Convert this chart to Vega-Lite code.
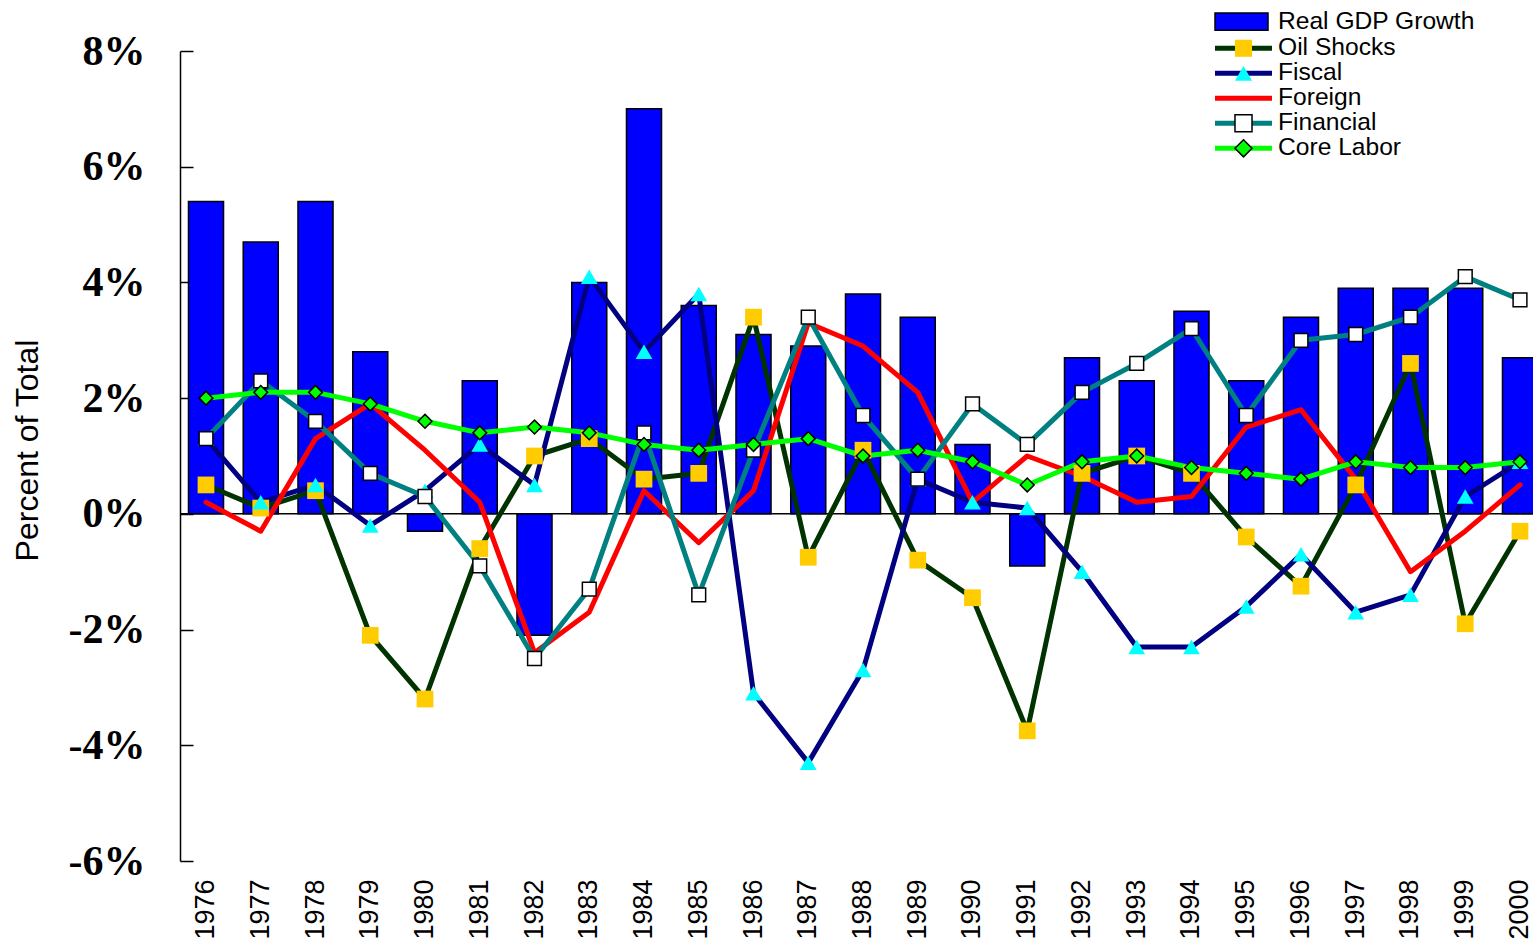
{
  "$schema": "https://vega.github.io/schema/vega-lite/v6.json",
  "width": 1353,
  "height": 810,
  "autosize": {"type": "none"},
  "padding": {"left": 180, "top": 51, "right": 0, "bottom": 80},
  "background": "white",
  "config": {"view": {"stroke": null}, "axis": {"labelOverlap": false}},
  "data": {"values": [
    {"year":"1976","series":"Real GDP Growth","value":5.4},{"year":"1976","series":"Oil Shocks","value":0.5},{"year":"1976","series":"Fiscal","value":1.3},{"year":"1976","series":"Foreign","value":0.2},{"year":"1976","series":"Financial","value":1.3},{"year":"1976","series":"Core Labor","value":2.0},
    {"year":"1977","series":"Real GDP Growth","value":4.7},{"year":"1977","series":"Oil Shocks","value":0.1},{"year":"1977","series":"Fiscal","value":0.2},{"year":"1977","series":"Foreign","value":-0.3},{"year":"1977","series":"Financial","value":2.3},{"year":"1977","series":"Core Labor","value":2.1},
    {"year":"1978","series":"Real GDP Growth","value":5.4},{"year":"1978","series":"Oil Shocks","value":0.4},{"year":"1978","series":"Fiscal","value":0.5},{"year":"1978","series":"Foreign","value":1.3},{"year":"1978","series":"Financial","value":1.6},{"year":"1978","series":"Core Labor","value":2.1},
    {"year":"1979","series":"Real GDP Growth","value":2.8},{"year":"1979","series":"Oil Shocks","value":-2.1},{"year":"1979","series":"Fiscal","value":-0.2},{"year":"1979","series":"Foreign","value":1.9},{"year":"1979","series":"Financial","value":0.7},{"year":"1979","series":"Core Labor","value":1.9},
    {"year":"1980","series":"Real GDP Growth","value":-0.3},{"year":"1980","series":"Oil Shocks","value":-3.2},{"year":"1980","series":"Fiscal","value":0.4},{"year":"1980","series":"Foreign","value":1.1},{"year":"1980","series":"Financial","value":0.3},{"year":"1980","series":"Core Labor","value":1.6},
    {"year":"1981","series":"Real GDP Growth","value":2.3},{"year":"1981","series":"Oil Shocks","value":-0.6},{"year":"1981","series":"Fiscal","value":1.2},{"year":"1981","series":"Foreign","value":0.2},{"year":"1981","series":"Financial","value":-0.9},{"year":"1981","series":"Core Labor","value":1.4},
    {"year":"1982","series":"Real GDP Growth","value":-2.1},{"year":"1982","series":"Oil Shocks","value":1.0},{"year":"1982","series":"Fiscal","value":0.5},{"year":"1982","series":"Foreign","value":-2.4},{"year":"1982","series":"Financial","value":-2.5},{"year":"1982","series":"Core Labor","value":1.5},
    {"year":"1983","series":"Real GDP Growth","value":4.0},{"year":"1983","series":"Oil Shocks","value":1.3},{"year":"1983","series":"Fiscal","value":4.1},{"year":"1983","series":"Foreign","value":-1.7},{"year":"1983","series":"Financial","value":-1.3},{"year":"1983","series":"Core Labor","value":1.4},
    {"year":"1984","series":"Real GDP Growth","value":7.0},{"year":"1984","series":"Oil Shocks","value":0.6},{"year":"1984","series":"Fiscal","value":2.8},{"year":"1984","series":"Foreign","value":0.4},{"year":"1984","series":"Financial","value":1.4},{"year":"1984","series":"Core Labor","value":1.2},
    {"year":"1985","series":"Real GDP Growth","value":3.6},{"year":"1985","series":"Oil Shocks","value":0.7},{"year":"1985","series":"Fiscal","value":3.8},{"year":"1985","series":"Foreign","value":-0.5},{"year":"1985","series":"Financial","value":-1.4},{"year":"1985","series":"Core Labor","value":1.1},
    {"year":"1986","series":"Real GDP Growth","value":3.1},{"year":"1986","series":"Oil Shocks","value":3.4},{"year":"1986","series":"Fiscal","value":-3.1},{"year":"1986","series":"Foreign","value":0.4},{"year":"1986","series":"Financial","value":1.1},{"year":"1986","series":"Core Labor","value":1.2},
    {"year":"1987","series":"Real GDP Growth","value":2.9},{"year":"1987","series":"Oil Shocks","value":-0.75},{"year":"1987","series":"Fiscal","value":-4.3},{"year":"1987","series":"Foreign","value":3.3},{"year":"1987","series":"Financial","value":3.4},{"year":"1987","series":"Core Labor","value":1.3},
    {"year":"1988","series":"Real GDP Growth","value":3.8},{"year":"1988","series":"Oil Shocks","value":1.1},{"year":"1988","series":"Fiscal","value":-2.7},{"year":"1988","series":"Foreign","value":2.9},{"year":"1988","series":"Financial","value":1.7},{"year":"1988","series":"Core Labor","value":1.0},
    {"year":"1989","series":"Real GDP Growth","value":3.4},{"year":"1989","series":"Oil Shocks","value":-0.8},{"year":"1989","series":"Fiscal","value":0.6},{"year":"1989","series":"Foreign","value":2.1},{"year":"1989","series":"Financial","value":0.6},{"year":"1989","series":"Core Labor","value":1.1},
    {"year":"1990","series":"Real GDP Growth","value":1.2},{"year":"1990","series":"Oil Shocks","value":-1.45},{"year":"1990","series":"Fiscal","value":0.2},{"year":"1990","series":"Foreign","value":0.2},{"year":"1990","series":"Financial","value":1.9},{"year":"1990","series":"Core Labor","value":0.9},
    {"year":"1991","series":"Real GDP Growth","value":-0.9},{"year":"1991","series":"Oil Shocks","value":-3.75},{"year":"1991","series":"Fiscal","value":0.1},{"year":"1991","series":"Foreign","value":1.0},{"year":"1991","series":"Financial","value":1.2},{"year":"1991","series":"Core Labor","value":0.5},
    {"year":"1992","series":"Real GDP Growth","value":2.7},{"year":"1992","series":"Oil Shocks","value":0.7},{"year":"1992","series":"Fiscal","value":-1.0},{"year":"1992","series":"Foreign","value":0.65},{"year":"1992","series":"Financial","value":2.1},{"year":"1992","series":"Core Labor","value":0.9},
    {"year":"1993","series":"Real GDP Growth","value":2.3},{"year":"1993","series":"Oil Shocks","value":1.0},{"year":"1993","series":"Fiscal","value":-2.3},{"year":"1993","series":"Foreign","value":0.2},{"year":"1993","series":"Financial","value":2.6},{"year":"1993","series":"Core Labor","value":1.0},
    {"year":"1994","series":"Real GDP Growth","value":3.5},{"year":"1994","series":"Oil Shocks","value":0.7},{"year":"1994","series":"Fiscal","value":-2.3},{"year":"1994","series":"Foreign","value":0.3},{"year":"1994","series":"Financial","value":3.2},{"year":"1994","series":"Core Labor","value":0.8},
    {"year":"1995","series":"Real GDP Growth","value":2.3},{"year":"1995","series":"Oil Shocks","value":-0.4},{"year":"1995","series":"Fiscal","value":-1.6},{"year":"1995","series":"Foreign","value":1.5},{"year":"1995","series":"Financial","value":1.7},{"year":"1995","series":"Core Labor","value":0.7},
    {"year":"1996","series":"Real GDP Growth","value":3.4},{"year":"1996","series":"Oil Shocks","value":-1.25},{"year":"1996","series":"Fiscal","value":-0.7},{"year":"1996","series":"Foreign","value":1.8},{"year":"1996","series":"Financial","value":3.0},{"year":"1996","series":"Core Labor","value":0.6},
    {"year":"1997","series":"Real GDP Growth","value":3.9},{"year":"1997","series":"Oil Shocks","value":0.5},{"year":"1997","series":"Fiscal","value":-1.7},{"year":"1997","series":"Foreign","value":0.6},{"year":"1997","series":"Financial","value":3.1},{"year":"1997","series":"Core Labor","value":0.9},
    {"year":"1998","series":"Real GDP Growth","value":3.9},{"year":"1998","series":"Oil Shocks","value":2.6},{"year":"1998","series":"Fiscal","value":-1.4},{"year":"1998","series":"Foreign","value":-1.0},{"year":"1998","series":"Financial","value":3.4},{"year":"1998","series":"Core Labor","value":0.8},
    {"year":"1999","series":"Real GDP Growth","value":3.9},{"year":"1999","series":"Oil Shocks","value":-1.9},{"year":"1999","series":"Fiscal","value":0.3},{"year":"1999","series":"Foreign","value":-0.3},{"year":"1999","series":"Financial","value":4.1},{"year":"1999","series":"Core Labor","value":0.8},
    {"year":"2000","series":"Real GDP Growth","value":2.7},{"year":"2000","series":"Oil Shocks","value":-0.3},{"year":"2000","series":"Fiscal","value":0.9},{"year":"2000","series":"Foreign","value":0.5},{"year":"2000","series":"Financial","value":3.7},{"year":"2000","series":"Core Labor","value":0.9}
  ]},
  "resolve": {"scale": {"color": "independent"}, "legend": {"color": "independent"}},
  "layer": [
    {
      "transform": [{"filter": "datum.series === 'Real GDP Growth'"}],
      "mark": {"type": "bar", "stroke": "#000000", "strokeWidth": 1.5},
      "encoding": {
        "x": {"field": "year", "type": "ordinal",
              "scale": {"type": "band", "range": [0, 1366], "paddingInner": 0.36, "paddingOuter": 0.155},
              "axis": {"title": null, "domain": false, "ticks": false, "labelAngle": -90, "labelAlign": "right", "labelBaseline": "middle",
                       "labelFont": "Liberation Sans", "labelFontSize": 27, "labelColor": "#000000", "labelPadding": 18}},
        "y": {"field": "value", "type": "quantitative",
              "scale": {"domain": [-6, 8], "nice": false, "zero": false},
              "axis": {"values": [-6, -4, -2, 0, 2, 4, 6, 8], "labelExpr": "datum.value + '%'",
                       "labelFont": "Liberation Serif", "labelFontWeight": "bold", "labelFontSize": 42, "labelColor": "#000000",
                       "labelPadding": 48, "tickSize": -13, "tickColor": "#000000", "tickWidth": 1.5,
                       "domainColor": "#000000", "domainWidth": 1.5, "grid": false,
                       "title": "Percent of Total", "titleFont": "Liberation Sans", "titleFontSize": 32, "titleFontWeight": "normal",
                       "titleColor": "#000000", "titleX": -143, "titleY": 399, "titleBaseline": "alphabetic", "titleAngle": 270, "titleAlign": "center"}},
        "y2": {"datum": 0},
        "color": {"field": "series", "type": "nominal", "scale": {"range": ["#0000FF"]},
                  "legend": {"title": null, "orient": "none", "legendX": 1051.2, "legendY": -41.7, "padding": 0,
                             "symbolType": "M-3,-0.9H2.58V0.9H-3Z", "symbolSize": 361, "symbolStrokeWidth": 1.5,
                             "symbolStrokeColor": "#000000", "symbolOpacity": 1,
                             "labelFont": "Liberation Sans", "labelFontSize": 24.6, "labelColor": "#000000", "labelOffset": 22.2, "labelLimit": 400}}
      }
    },
    {
      "data": {"values": [{}]},
      "mark": {"type": "rule", "color": "#000000", "strokeWidth": 1.5},
      "encoding": {"y": {"datum": 0}}
    },
    {
      "transform": [{"filter": "datum.series !== 'Real GDP Growth'"}],
      "mark": {"type": "line", "strokeWidth": 5, "strokeJoin": "round", "strokeCap": "round"},
      "encoding": {
        "x": {"field": "year", "type": "ordinal"},
        "y": {"field": "value", "type": "quantitative"},
        "color": {"field": "series", "type": "nominal",
                  "scale": {"domain": ["Oil Shocks", "Fiscal", "Foreign", "Financial", "Core Labor"],
                            "range": ["#003300", "#000080", "#FF0000", "#008080", "#00FF00"]},
                  "legend": {"title": null, "orient": "none", "legendX": 1051.2, "legendY": -15, "padding": 0, "rowPadding": 0,
                             "symbolType": "M-3,0H3", "symbolSize": 361, "symbolStrokeWidth": 5, "symbolOpacity": 1,
                             "labelFont": "Liberation Sans", "labelFontSize": 24.6, "labelColor": "#000000", "labelOffset": 22.2, "labelLimit": 400}}
      }
    },
    {
      "transform": [{"filter": "datum.series !== 'Real GDP Growth'"}],
      "mark": {"type": "point", "filled": true, "opacity": 1, "strokeWidth": 1.5},
      "encoding": {
        "x": {"field": "year", "type": "ordinal"},
        "y": {"field": "value", "type": "quantitative"},
        "fill": {"field": "series", "type": "nominal",
                 "scale": {"domain": ["Oil Shocks", "Fiscal", "Foreign", "Financial", "Core Labor"],
                           "range": ["#FFCC00", "#00FFFF", "transparent", "#FFFFFF", "#00FF00"]},
                 "legend": {"title": null, "orient": "none", "legendX": 1051.2, "legendY": -15, "padding": 0, "rowPadding": 0,
                            "symbolSize": 290, "symbolStrokeWidth": 1.5, "symbolOpacity": 1,
                            "labelFont": "Liberation Sans", "labelFontSize": 24.6, "labelExpr": "''", "labelOffset": 22.2, "zindex": 1}},
        "shape": {"field": "series", "type": "nominal",
                  "scale": {"domain": ["Oil Shocks", "Fiscal", "Foreign", "Financial", "Core Labor"],
                            "range": ["square", "triangle-up", "square", "square", "diamond"]},
                  "legend": {"title": null, "orient": "none", "legendX": 1051.2, "legendY": -15, "padding": 0, "rowPadding": 0,
                             "symbolSize": 290, "symbolStrokeWidth": 1.5, "symbolOpacity": 1,
                             "labelFont": "Liberation Sans", "labelFontSize": 24.6, "labelExpr": "''", "labelOffset": 22.2, "zindex": 1}},
        "stroke": {"field": "series", "type": "nominal",
                   "scale": {"domain": ["Oil Shocks", "Fiscal", "Foreign", "Financial", "Core Labor"],
                             "range": ["transparent", "transparent", "transparent", "#000000", "#000000"]},
                   "legend": {"title": null, "orient": "none", "legendX": 1051.2, "legendY": -15, "padding": 0, "rowPadding": 0,
                              "symbolSize": 290, "symbolStrokeWidth": 1.5, "symbolOpacity": 1,
                              "labelFont": "Liberation Sans", "labelFontSize": 24.6, "labelExpr": "''", "labelOffset": 22.2, "zindex": 1}},
        "size": {"condition": {"test": "datum.series === 'Oil Shocks' || datum.series === 'Fiscal'", "value": 280}, "value": 190}
      }
    }
  ]
}
